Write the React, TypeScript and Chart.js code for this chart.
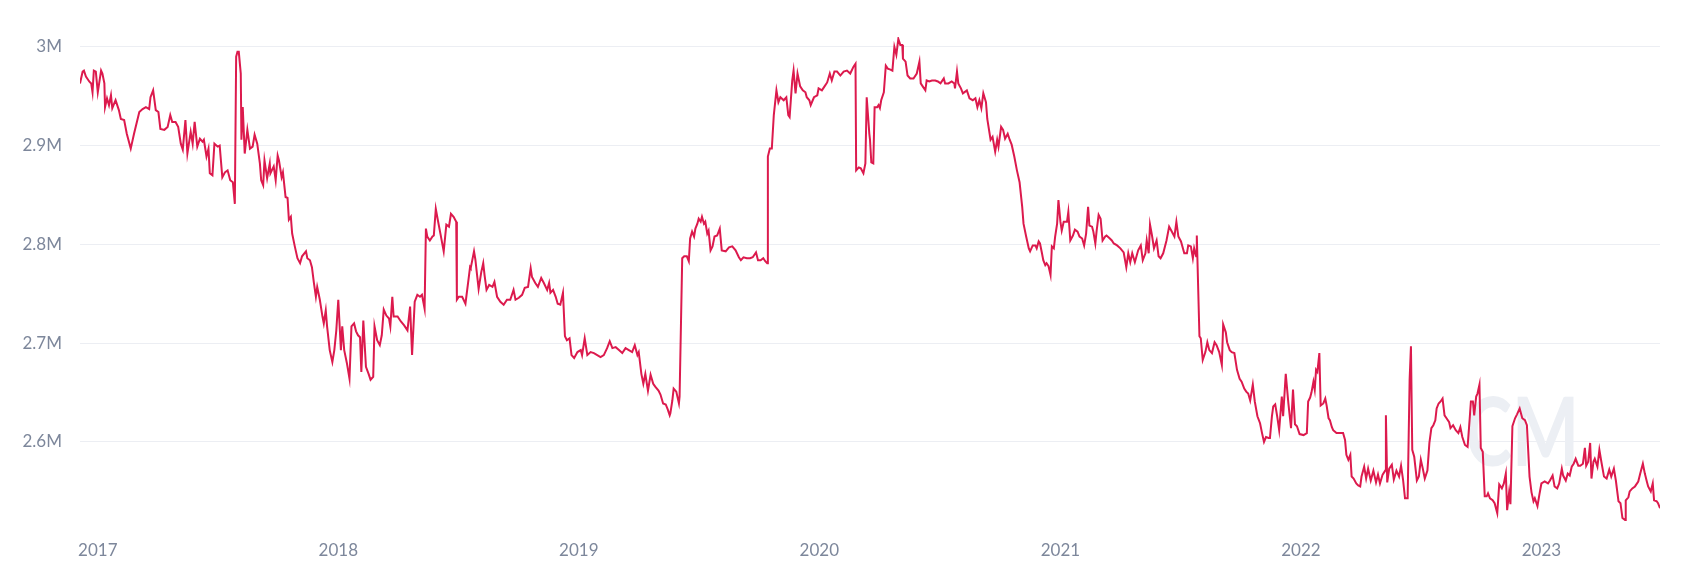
import React, { useEffect, useRef } from "react";
import { Chart, registerables } from "chart.js";

Chart.register(...registerables);

// x values: days since 2017-01-01 ; y values: millions
const YEAR_LABELS = ["2017", "2018", "2019", "2020", "2021", "2022", "2023"];
const YEAR_DAYS = [0, 365, 730, 1095, 1461, 1826, 2191];
const Y_TICKS = [2.6, 2.7, 2.8, 2.9, 3.0];

const DAYS_A = [
  -27, -23, -21, -18, -13, -10, -8, -6, -3, 0,
  5, 7, 10, 11, 14, 17, 20, 22, 27, 32,
  35, 40, 44, 50, 55, 63, 68, 73, 78, 80,
  84, 88, 92, 95, 101, 106, 110, 113, 118, 122,
  126, 129, 133, 136, 141, 144, 147, 151, 155, 159,
  161, 165, 168, 170, 174, 177, 182, 185, 189, 193,
  197, 201, 205, 208, 210, 212, 214, 217, 218, 220,
  223, 227, 231, 235, 238, 242, 246, 248, 251, 253,
  257, 261,
];
const VALUES_A = [
  2.963, 2.975, 2.976, 2.970, 2.965, 2.963, 2.954, 2.976, 2.975, 2.954,
  2.976, 2.973, 2.963, 2.939, 2.948, 2.941, 2.951, 2.938, 2.946, 2.936,
  2.927, 2.926, 2.912, 2.897, 2.912, 2.934, 2.937, 2.939, 2.937, 2.949,
  2.956, 2.936, 2.934, 2.917, 2.916, 2.919, 2.931, 2.924, 2.924, 2.919,
  2.902, 2.896, 2.926, 2.892, 2.914, 2.902, 2.924, 2.899, 2.907, 2.904,
  2.906, 2.889, 2.897, 2.872, 2.870, 2.902, 2.899, 2.900, 2.868, 2.873,
  2.875, 2.865, 2.863, 2.841, 2.990, 2.995, 2.995, 2.973, 2.906, 2.939,
  2.892, 2.916, 2.897, 2.899, 2.911, 2.902, 2.882, 2.865, 2.860, 2.885,
  2.867, 2.882,
];

const DAYS_B = [
  262, 267, 270, 273, 275, 279, 281, 285, 288, 290,
  293, 295, 299, 303, 307, 310, 316, 318, 322, 325,
  328, 331, 333, 337, 341, 343, 346, 348, 352, 356,
  359, 362, 365, 369, 371, 374, 378, 382, 385, 389,
  392, 395, 398, 400, 403, 407, 411, 414, 418, 420,
  424, 428, 431, 434, 438, 442, 444, 447, 449, 455,
  460, 465, 470, 474, 477, 481, 485, 489, 492, 496,
  498, 500, 504, 508, 510, 513, 516, 520, 525, 529,
  533, 536, 540, 544, 545, 548, 553, 558, 562, 565,
];
const VALUES_B = [
  2.872, 2.879, 2.865, 2.890, 2.885, 2.868, 2.873, 2.848, 2.847, 2.825,
  2.828, 2.811, 2.798, 2.786, 2.781, 2.788, 2.793, 2.786, 2.784, 2.777,
  2.761, 2.747, 2.757, 2.744, 2.727, 2.720, 2.733, 2.717, 2.693, 2.681,
  2.693, 2.713, 2.744, 2.693, 2.717, 2.693, 2.680, 2.664, 2.717, 2.720,
  2.712, 2.708, 2.706, 2.671, 2.723, 2.676, 2.669, 2.663, 2.666, 2.717,
  2.703, 2.698, 2.708, 2.734, 2.728, 2.725, 2.717, 2.747, 2.727, 2.727,
  2.722, 2.718, 2.713, 2.737, 2.688, 2.742, 2.749, 2.747, 2.749, 2.735,
  2.816, 2.808, 2.804, 2.808, 2.809, 2.836, 2.825, 2.811, 2.793, 2.820,
  2.818, 2.831, 2.828, 2.823, 2.744, 2.747, 2.747, 2.740, 2.761, 2.777,
];

const DAYS_C = [
  566, 571, 573, 576, 578, 582, 585, 587, 590, 594,
  599, 602, 606, 611, 616, 621, 626, 631, 634, 639,
  644, 648, 653, 657, 659, 664, 668, 673, 677, 682,
  685, 687, 691, 695, 698, 702, 706, 709, 712, 716,
  719, 723, 728, 733, 735, 739, 743, 748, 753, 758,
  763, 768, 773, 777, 781, 786, 791, 796, 801, 806,
  811, 815, 819, 821, 825, 828, 831, 835, 839, 843,
  846, 851, 854, 858, 862, 865, 868,
];
const VALUES_C = [
  2.776, 2.793, 2.785, 2.767, 2.755, 2.772, 2.781, 2.769, 2.754, 2.759,
  2.757, 2.762, 2.747, 2.742, 2.739, 2.744, 2.744, 2.754, 2.744, 2.746,
  2.749, 2.756, 2.757, 2.776, 2.767, 2.761, 2.757, 2.766, 2.761, 2.754,
  2.761, 2.751, 2.754, 2.747, 2.740, 2.739, 2.751, 2.707, 2.703, 2.705,
  2.688, 2.685, 2.691, 2.693, 2.688, 2.705, 2.688, 2.691, 2.690, 2.688,
  2.686, 2.688, 2.695, 2.702, 2.695, 2.696, 2.693, 2.690, 2.695, 2.693,
  2.691, 2.698, 2.688, 2.691, 2.669, 2.659, 2.669, 2.652, 2.668, 2.659,
  2.656, 2.652, 2.648, 2.639, 2.638, 2.633, 2.627,
];

const DAYS_D = [
  869, 872, 874, 878, 882, 883, 887, 890, 894, 897,
  899, 902, 905, 907, 910, 912, 915, 917, 920, 922,
  925, 927, 930, 933, 936, 940, 944, 947, 953, 958,
  963, 968, 973, 976, 980, 985, 990, 994, 999, 1002,
  1006, 1010, 1013, 1016, 1017, 1020, 1023, 1026, 1030, 1033,
  1036, 1041, 1045, 1048, 1050, 1054, 1056, 1059, 1062, 1066,
  1070, 1074, 1076, 1080, 1082, 1087, 1092, 1094, 1099, 1103,
  1107, 1111, 1114, 1118, 1122, 1127, 1132, 1137, 1142, 1147,
  1150, 1151, 1155, 1158, 1162, 1165, 1167, 1171,
];
const VALUES_D = [
  2.629, 2.642, 2.654, 2.651, 2.639, 2.646, 2.786, 2.788, 2.788, 2.783,
  2.806, 2.813, 2.808, 2.816, 2.821, 2.826, 2.823, 2.828, 2.821, 2.823,
  2.811, 2.814, 2.794, 2.798, 2.808, 2.809, 2.816, 2.794, 2.793, 2.797,
  2.798, 2.794, 2.787, 2.784, 2.787, 2.786, 2.786, 2.787, 2.792, 2.784,
  2.784, 2.786, 2.783, 2.781, 2.889, 2.897, 2.897, 2.931, 2.956, 2.944,
  2.949, 2.946, 2.949, 2.931, 2.929, 2.966, 2.976, 2.953, 2.973, 2.960,
  2.956, 2.954, 2.949, 2.946, 2.941, 2.949, 2.951, 2.958, 2.956, 2.960,
  2.964, 2.973, 2.966, 2.975, 2.975, 2.971, 2.975, 2.976, 2.973, 2.980,
  2.983, 2.875, 2.878, 2.877, 2.872, 2.882, 2.949, 2.912,
];

const DAYS_E = [
  1172, 1174, 1177, 1179, 1183, 1185, 1187, 1189, 1193, 1196,
  1199, 1203, 1206, 1209, 1212, 1215, 1218, 1221, 1222, 1226,
  1229, 1233, 1238, 1243, 1247, 1249, 1252, 1256, 1258, 1262,
  1266, 1271, 1275, 1279, 1284, 1286, 1291, 1296, 1300, 1301,
  1304, 1306, 1310, 1313, 1319, 1323, 1328, 1332, 1335, 1338,
  1341, 1344, 1348, 1350, 1355, 1358, 1362, 1365, 1367, 1371,
  1374, 1377, 1381, 1384, 1387, 1391, 1395, 1399, 1403, 1405,
  1409, 1413, 1415, 1419, 1423, 1425, 1428, 1430, 1433, 1435,
  1438, 1440, 1443, 1446, 1448, 1451, 1453, 1456, 1458, 1461,
  1463, 1466, 1471, 1473, 1476,
];
const VALUES_E = [
  2.906, 2.883, 2.882, 2.939, 2.939, 2.941, 2.938, 2.946, 2.954, 2.981,
  2.978, 2.977, 2.976, 3.000, 2.992, 3.008, 3.002, 3.002, 2.988, 2.985,
  2.971, 2.968, 2.968, 2.973, 2.985, 2.963, 2.960, 2.956, 2.966, 2.965,
  2.966, 2.966, 2.965, 2.963, 2.968, 2.963, 2.963, 2.965, 2.963, 2.958,
  2.975, 2.963, 2.958, 2.953, 2.956, 2.948, 2.946, 2.948, 2.939, 2.946,
  2.938, 2.953, 2.944, 2.927, 2.906, 2.909, 2.894, 2.906, 2.899, 2.919,
  2.916, 2.907, 2.912, 2.906, 2.901, 2.889, 2.875, 2.863, 2.838, 2.821,
  2.808, 2.796, 2.793, 2.799, 2.799, 2.796, 2.803, 2.801, 2.791, 2.784,
  2.779, 2.781, 2.778, 2.769, 2.798, 2.796, 2.808, 2.821, 2.845, 2.823,
  2.814, 2.823, 2.823, 2.833, 2.804,
];

const DAYS_F = [
  1480, 1483, 1487, 1490, 1494, 1497, 1500, 1503, 1505, 1509,
  1511, 1514, 1516, 1519, 1522, 1525, 1529, 1531, 1536, 1539,
  1542, 1547, 1552, 1557, 1561, 1564, 1567, 1570, 1574, 1579,
  1583, 1586, 1590, 1592, 1595, 1597, 1600, 1603, 1607, 1610,
  1613, 1617, 1622, 1626, 1630, 1634, 1637, 1640, 1644, 1649,
  1653, 1655, 1659, 1662, 1664, 1667, 1668, 1672, 1674, 1677,
  1681, 1684, 1687, 1691, 1695, 1698, 1702, 1706, 1708, 1712,
  1714, 1718, 1721, 1725, 1729, 1733, 1736, 1740, 1743, 1746,
  1749, 1753, 1756, 1760, 1764, 1767, 1770, 1773, 1777, 1779,
];
const VALUES_F = [
  2.809, 2.815, 2.813, 2.808, 2.806, 2.799, 2.811, 2.838, 2.819, 2.818,
  2.813, 2.801, 2.814, 2.830, 2.826, 2.804, 2.808, 2.809, 2.806, 2.804,
  2.801, 2.799, 2.796, 2.792, 2.777, 2.791, 2.782, 2.791, 2.782, 2.794,
  2.799, 2.784, 2.791, 2.804, 2.791, 2.820, 2.809, 2.796, 2.804, 2.788,
  2.786, 2.791, 2.804, 2.818, 2.813, 2.808, 2.823, 2.808, 2.803, 2.791,
  2.791, 2.799, 2.798, 2.786, 2.796, 2.788, 2.809, 2.707, 2.705, 2.683,
  2.691, 2.701, 2.693, 2.690, 2.701, 2.698, 2.691, 2.678, 2.719, 2.711,
  2.701, 2.693, 2.691, 2.690, 2.673, 2.664, 2.661, 2.654, 2.651, 2.649,
  2.642, 2.658, 2.641, 2.626, 2.619, 2.609, 2.600, 2.605, 2.604, 2.604,
];

const DAYS_G = [1782, 1784, 1787, 1790, 1793, 1797, 1799, 1803, 1807, 1811, 1814, 1817, 1820, 1824];
const VALUES_G = [2.626, 2.636, 2.638, 2.626, 2.612, 2.646, 2.626, 2.669, 2.639, 2.614, 2.653, 2.618, 2.616, 2.608];

const DAYS_H = [
  1830, 1835, 1837, 1840, 1842, 1845, 1847, 1849, 1851, 1854,
  1856, 1860, 1863, 1865, 1868, 1870, 1873, 1875, 1880, 1885,
  1890, 1893, 1895, 1898, 1901, 1903, 1906, 1910, 1913, 1916,
  1918, 1922, 1925, 1928, 1932, 1936, 1940, 1943, 1946, 1950,
  1954, 1955, 1957, 1960, 1964, 1967, 1971, 1975, 1978, 1981,
  1984, 1988, 1991, 1993, 1995, 1998, 2002, 2005, 2008, 2011,
  2014, 2018, 2021, 2024, 2027, 2030, 2032, 2035, 2038, 2041,
  2044, 2047, 2051, 2053, 2057, 2061, 2065, 2068, 2071, 2075,
  2079, 2082, 2084, 2087, 2089, 2092, 2094, 2097, 2099, 2102,
  2105, 2108, 2110, 2113, 2117, 2120, 2124, 2127, 2131, 2134,
  2137, 2139, 2142, 2144, 2147, 2151, 2154, 2158, 2162, 2166,
  2169, 2173, 2176, 2179, 2181, 2185, 2188, 2191, 2196, 2201,
  2204, 2208, 2211, 2215, 2218, 2222, 2224, 2228, 2231, 2234,
  2237, 2240, 2243, 2247, 2250, 2254, 2257, 2259, 2262, 2265,
  2267, 2270, 2272, 2276, 2279, 2282, 2286, 2290, 2294, 2297,
  2301, 2304, 2308, 2311, 2314, 2318, 2319, 2323, 2325, 2329,
  2333, 2338, 2341, 2345, 2348, 2351, 2353, 2357, 2360, 2362,
  2366, 2368, 2371,
];
const VALUES_H = [
  2.607, 2.609, 2.641, 2.645, 2.650, 2.661, 2.653, 2.673, 2.671, 2.690,
  2.637, 2.639, 2.644, 2.637, 2.624, 2.622, 2.615, 2.612, 2.609, 2.609,
  2.609, 2.602, 2.587, 2.582, 2.587, 2.565, 2.563, 2.558, 2.556, 2.555,
  2.565, 2.575, 2.563, 2.573, 2.561, 2.571, 2.559, 2.567, 2.558, 2.567,
  2.571, 2.627, 2.559, 2.573, 2.577, 2.562, 2.571, 2.565, 2.576, 2.562,
  2.543, 2.543, 2.663, 2.697, 2.592, 2.585, 2.561, 2.565, 2.582, 2.573,
  2.563, 2.571, 2.599, 2.614, 2.617, 2.622, 2.634, 2.639, 2.641, 2.644,
  2.627, 2.624, 2.620, 2.614, 2.617, 2.612, 2.609, 2.615, 2.605, 2.597,
  2.595, 2.622, 2.641, 2.641, 2.627, 2.646, 2.649, 2.658, 2.594, 2.590,
  2.545, 2.545, 2.548, 2.543, 2.541, 2.538, 2.528, 2.557, 2.553, 2.558,
  2.568, 2.531, 2.549, 2.537, 2.616, 2.624, 2.628, 2.634, 2.624, 2.622,
  2.617, 2.565, 2.549, 2.540, 2.543, 2.535, 2.547, 2.558, 2.560, 2.558,
  2.561, 2.566, 2.555, 2.553, 2.558, 2.573, 2.566, 2.561, 2.568, 2.566,
  2.575, 2.578, 2.583, 2.576, 2.576, 2.578, 2.594, 2.576, 2.580, 2.599,
  2.563, 2.580, 2.583, 2.575, 2.592, 2.580, 2.565, 2.563, 2.572, 2.565,
  2.573, 2.561, 2.540, 2.538, 2.523, 2.521, 2.541, 2.544, 2.550, 2.553,
  2.555, 2.560, 2.568, 2.578, 2.568, 2.560, 2.555, 2.550, 2.558, 2.541,
  2.540, 2.538, 2.533,
];

const ALL_DAYS = [
  ...DAYS_A, ...DAYS_B, ...DAYS_C, ...DAYS_D, ...DAYS_E, ...DAYS_F, ...DAYS_G, ...DAYS_H,
];
const ALL_VALUES = [
  ...VALUES_A, ...VALUES_B, ...VALUES_C, ...VALUES_D, ...VALUES_E, ...VALUES_F, ...VALUES_G, ...VALUES_H,
];

const FONT = "Lato";
const TEXT_COLOR = "#7d879b";
const LINE_COLOR = "#dc1a4d";
const GRID_COLOR = "#eceef3";

const watermarkPlugin = {
  id: "watermark",
  beforeDatasetsDraw(chart: any) {
    const { ctx, chartArea } = chart;
    ctx.save();
    ctx.fillStyle = "#eceff4";
    ctx.font = `700 96px ${FONT}`;
    ctx.textAlign = "center";
    ctx.textBaseline = "middle";
    ctx.translate(chartArea.right - 138, chartArea.bottom - 86);
    ctx.scale(0.74, 1);
    ctx.fillText("CM", 0, 0);
    ctx.restore();
  },
};

export default function App() {
  const canvasRef = useRef<HTMLCanvasElement | null>(null);

  useEffect(() => {
    if (!canvasRef.current) return;
    const n = Math.min(ALL_DAYS.length, ALL_VALUES.length);
    const points = [];
    for (let i = 0; i < n; i++) points.push({ x: ALL_DAYS[i], y: ALL_VALUES[i] });

    const chart = new Chart(canvasRef.current, {
      type: "line",
      data: {
        datasets: [
          {
            data: points,
            borderColor: LINE_COLOR,
            borderWidth: 2,
            pointRadius: 0,
            tension: 0,
            fill: false,
          },
        ],
      },
      options: {
        animation: false,
        responsive: true,
        maintainAspectRatio: false,
        layout: { padding: { top: 29, right: 29, left: 0, bottom: 0 } },
        plugins: { legend: { display: false }, tooltip: { enabled: false } },
        scales: {
          x: {
            type: "linear",
            min: ALL_DAYS[0],
            max: ALL_DAYS[n - 1],
            grid: { display: false, drawTicks: false },
            border: { display: false },
            afterBuildTicks: (s: any) => {
              s.ticks = YEAR_DAYS.map((v) => ({ value: v }));
            },
            afterFit: (s: any) => {
              s.height = 57;
            },
            ticks: {
              autoSkip: false,
              maxRotation: 0,
              padding: 19,
              color: TEXT_COLOR,
              font: { family: FONT, size: 17 },
              callback: (v: any) => {
                const i = YEAR_DAYS.indexOf(Number(v));
                return i >= 0 ? YEAR_LABELS[i] : "";
              },
            },
          },
          y: {
            min: 2.52,
            max: 3.01,
            grid: { color: GRID_COLOR, lineWidth: 1, drawTicks: false },
            border: { display: false },
            afterBuildTicks: (s: any) => {
              s.ticks = Y_TICKS.map((v) => ({ value: v }));
            },
            afterFit: (s: any) => {
              s.width = 72;
            },
            ticks: {
              padding: 18,
              color: TEXT_COLOR,
              font: { family: FONT, size: 17 },
              callback: (v: any) => `${Number(Number(v).toFixed(1))}M`,
            },
          },
        },
      },
      plugins: [watermarkPlugin],
    });
    return () => chart.destroy();
  }, []);

  return (
    <div style={{ position: "relative", width: 1681, height: 570 }}>
      <canvas ref={canvasRef} />
    </div>
  );
}
